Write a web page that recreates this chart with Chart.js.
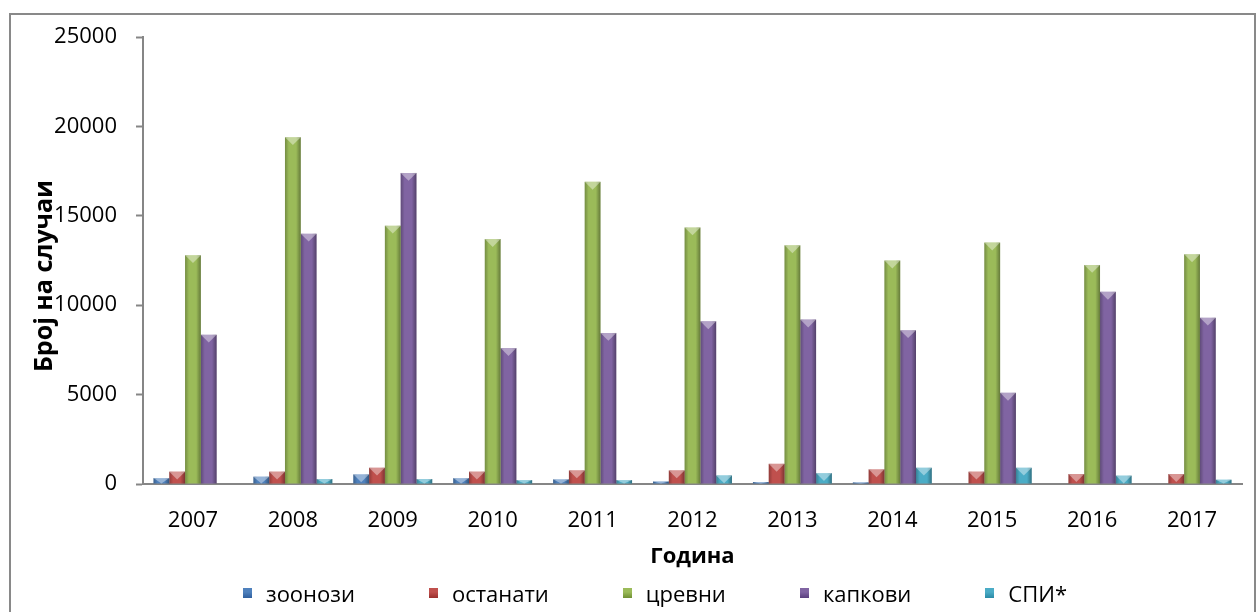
<!DOCTYPE html>
<html>
<head>
<meta charset="utf-8">
<script src="https://cdn.jsdelivr.net/npm/chart.js@4.4.0/dist/chart.umd.min.js"></script>
<style>
  body { margin: 0; background: #fff; }
  #marco { position: absolute; left: 9px; top: 13px; width: 1243px; height: 620px; border: 2px solid #898989; }
  #contenedor { position: absolute; left: 0; top: 0; width: 1257px; height: 612px; }
  #leyenda { position: absolute; left: 243px; top: 578px; display: flex; font-family: "Open Sans"; font-size: 22px; line-height: 30px; color: #000; }
  .item { display: flex; align-items: center; margin-right: 74px; }
  .caja { display: block; width: 9px; height: 10px; margin-right: 14px; }
</style>
</head>
<body>
<div id="marco"></div>
<div id="contenedor"><canvas id="miGrafico" width="1257" height="612"></canvas></div>
<div id="leyenda"></div>
<script>
// Datos
const anios = ['2007', '2008', '2009', '2010', '2011', '2012', '2013', '2014', '2015', '2016', '2017'];
const zoonozi = [330, 410, 540, 330, 260, 140, 110, 90, 0, 0, 0];
const ostanati = [690, 690, 910, 690, 760, 760, 1130, 820, 690, 560, 560];
const crevni = [12800, 19400, 14450, 13700, 16900, 14350, 13350, 12500, 13500, 12250, 12850];
const kapkovi = [8350, 14000, 17400, 7600, 8450, 9100, 9200, 8600, 5100, 10750, 9300];
const spi = [null, 280, 280, 220, 220, 480, 610, 910, 910, 470, 240];
const ticksY = [0, 5000, 10000, 15000, 20000, 25000];

const nombres = ['зоонози', 'останати', 'цревни', 'капкови', 'СПИ*'];
const colores = ['#4F81BD', '#C0504D', '#9BBB59', '#8064A2', '#4BACC6'];
const oscuros = ['#2f5f9e', '#9a2f2c', '#6f8f33', '#5a3f7e', '#2a8aa6'];
const series = [zoonozi, ostanati, crevni, kapkovi, spi];

const fuente = '"Open Sans", sans-serif';
const gris = '#868686';

// Sombra lateral y punta clara de cada barra
const biselPlugin = {
    id: 'bisel',
    afterDatasetsDraw: function (chart) {
        const ctx = chart.ctx;
        chart.data.datasets.forEach(function (ds, i) {
            const meta = chart.getDatasetMeta(i);
            meta.data.forEach(function (bar) {
                const p = bar.getProps(['x', 'y', 'base', 'width'], true);
                const alto = p.base - p.y;
                if (!(alto > 0.5)) return;
                const izq = p.x - p.width / 2;
                const der = p.x + p.width / 2;
                const grad = ctx.createLinearGradient(izq, 0, der, 0);
                grad.addColorStop(0, 'rgba(0,0,0,0.25)');
                grad.addColorStop(0.25, 'rgba(0,0,0,0)');
                grad.addColorStop(0.7, 'rgba(0,0,0,0)');
                grad.addColorStop(1, 'rgba(0,0,0,0.35)');
                ctx.save();
                ctx.fillStyle = grad;
                ctx.fillRect(izq, p.y, p.width, alto);
                const h = Math.min(p.width * 0.5, alto);
                ctx.beginPath();
                ctx.moveTo(izq, p.y);
                ctx.lineTo(der, p.y);
                ctx.lineTo(p.x, p.y + h);
                ctx.closePath();
                ctx.fillStyle = 'rgba(255,255,255,0.4)';
                ctx.fill();
                ctx.restore();
            });
        });
    }
};

// Titulo vertical del eje Y, centrado un poco mas abajo como en el original
const tituloYPlugin = {
    id: 'tituloY',
    afterDraw: function (chart) {
        const ctx = chart.ctx;
        ctx.save();
        ctx.translate(45, 276);
        ctx.rotate(-Math.PI / 2);
        ctx.font = 'bold 25px ' + fuente;
        ctx.fillStyle = '#000';
        ctx.textAlign = 'center';
        ctx.textBaseline = 'middle';
        ctx.fillText('Број на случаи', 0, 0);
        ctx.restore();
    }
};

const datasets = series.map(function (valores, i) {
    return {
        label: nombres[i],
        data: valores,
        backgroundColor: colores[i],
        borderWidth: 0,
        categoryPercentage: 0.79,
        barPercentage: 1.0
    };
});

const ctx = document.getElementById('miGrafico').getContext('2d');
const chartInstance = new Chart(ctx, {
    type: 'bar',
    data: { labels: anios, datasets: datasets },
    plugins: [biselPlugin, tituloYPlugin],
    options: {
        responsive: false,
        animation: false,
        layout: { padding: { top: 37, right: 15, bottom: 38, left: 0 } },
        plugins: {
            legend: { display: false },
            tooltip: { enabled: false }
        },
        scales: {
            x: {
                grid: { display: false, drawTicks: false },
                border: { display: true, color: gris, width: 2 },
                ticks: { color: '#000', padding: 24, font: { family: fuente, size: 22 } },
                title: {
                    display: true, text: 'Година', color: '#000',
                    font: { family: fuente, size: 22, weight: 'bold' },
                    padding: { top: 0, bottom: 4 }
                },
                afterFit: function (scale) { scale.height = 90; }
            },
            y: {
                min: 0,
                max: 25000,
                afterBuildTicks: function (scale) {
                    scale.ticks = ticksY.map(function (v) { return { value: v }; });
                },
                grid: { drawOnChartArea: false, drawTicks: true, tickLength: 7, tickColor: gris, tickWidth: 2 },
                border: { display: true, color: gris, width: 2 },
                ticks: {
                    color: '#000', padding: 19, font: { family: fuente, size: 22 },
                    callback: function (v) { return String(v); }
                },
                afterFit: function (scale) { scale.width = 143; }
            }
        }
    }
});

// Leyenda en HTML con los mismos datasets
const leyenda = document.getElementById('leyenda');
chartInstance.data.datasets.forEach(function (ds, i) {
    const item = document.createElement('div');
    item.className = 'item';
    const caja = document.createElement('span');
    caja.className = 'caja';
    caja.style.background = 'linear-gradient(to bottom, ' + ds.backgroundColor + ' 0%, ' + colores[i] + ' 40%, ' + oscuros[i] + ' 100%)';
    const texto = document.createElement('span');
    texto.textContent = ds.label;
    item.appendChild(caja);
    item.appendChild(texto);
    leyenda.appendChild(item);
});
</script>
</body>
</html>
